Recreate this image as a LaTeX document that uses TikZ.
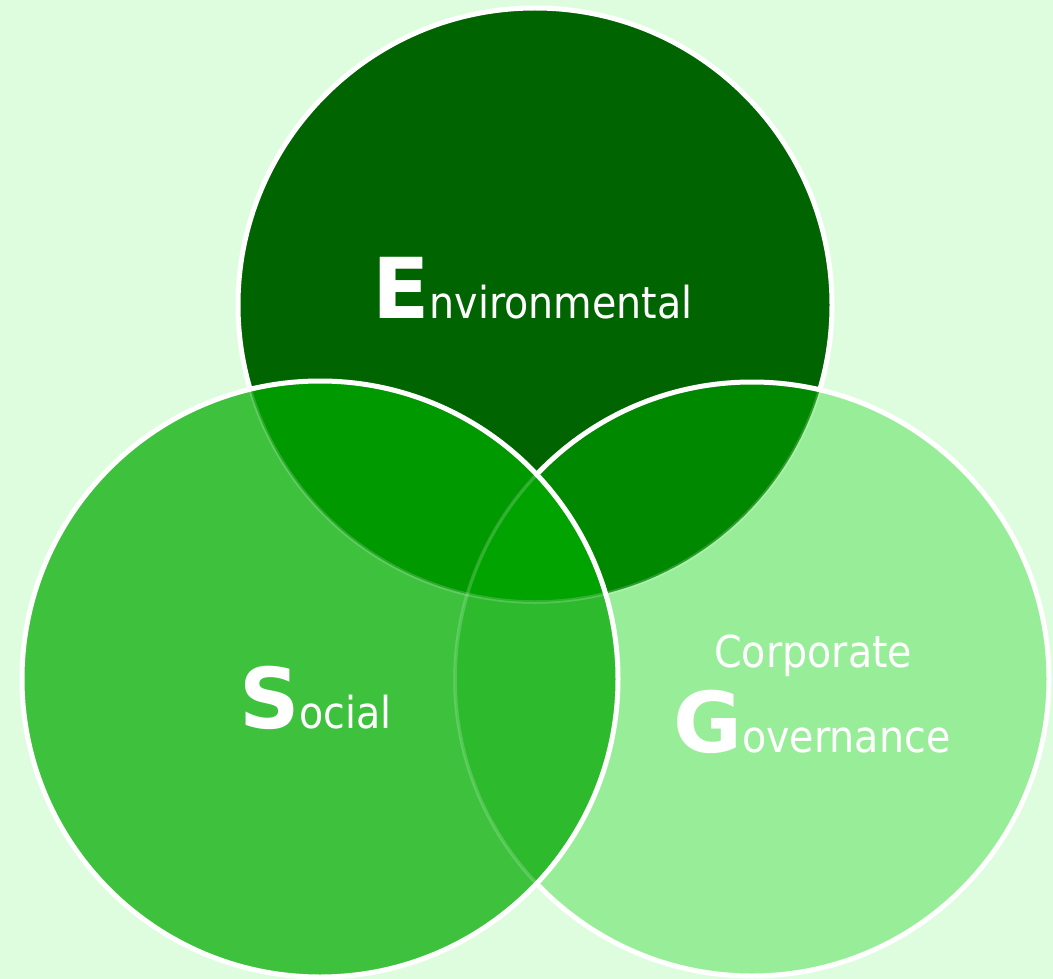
\documentclass[tikz,border=0pt]{standalone}
\usepackage{fontspec}
\setmainfont{DejaVu Sans}
\usepackage{graphicx}
\definecolor{bg}{HTML}{DEFDDE}
\definecolor{cE}{HTML}{006400}
\definecolor{cS}{HTML}{3EC23E}
\definecolor{cG}{HTML}{98EE98}
\definecolor{cES}{HTML}{009900}
\definecolor{cEG}{HTML}{008800}
\definecolor{cSG}{HTML}{2DBB2D}
\definecolor{cESG}{HTML}{00A300}
\tikzset{
  rim/.style={draw=white,line width=5pt},
  faint/.style={draw=white,draw opacity=0.18,line width=3.5pt},
  lbl/.style={anchor=base west,inner sep=0pt,text=white},
}
\newcommand{\bigletter}[1]{{\bfseries\fontsize{84}{84}\selectfont #1}}
\newcommand{\restword}[1]{\scalebox{0.9}[1]{\fontsize{44}{44}\selectfont #1}}
\begin{document}
\begin{tikzpicture}[x=1pt,y=-1pt]
\fill[bg] (0,0) rectangle (1053,979);
\useasboundingbox (0,0) rectangle (1053,979);
\def\pE{(535,305) circle (297)}
\def\pS{(320,679) circle (298)}
\def\pG{(752,679) circle (297)}
% Environmental
\fill[cE] \pE;
\draw[rim] \pE;
% Governance
\fill[cG] \pG;
\begin{scope}
  \clip \pG;
  \fill[cEG] \pE;
  \draw[faint] \pE;
\end{scope}
\draw[rim] \pG;
% Social
\fill[cS] \pS;
\begin{scope}
  \clip \pS;
  \fill[cES] \pE;
  \fill[cSG] \pG;
  \begin{scope}
    \clip \pE;
    \fill[cESG] \pG;
  \end{scope}
  \draw[faint] \pE;
  \draw[faint] \pG;
\end{scope}
\draw[rim] \pS;
% labels
\node[lbl] (tE) at (372,318) {\bigletter{E}\restword{nvironmental}};
\node[lbl] (tS) at (239,728) {\bigletter{S}\restword{ocial}};
\node[lbl] (tC) at (714,667) {\restword{Corporate}};
\node[lbl] (tG) at (673,752) {\bigletter{G}\restword{overnance}};
\end{tikzpicture}
\end{document}
